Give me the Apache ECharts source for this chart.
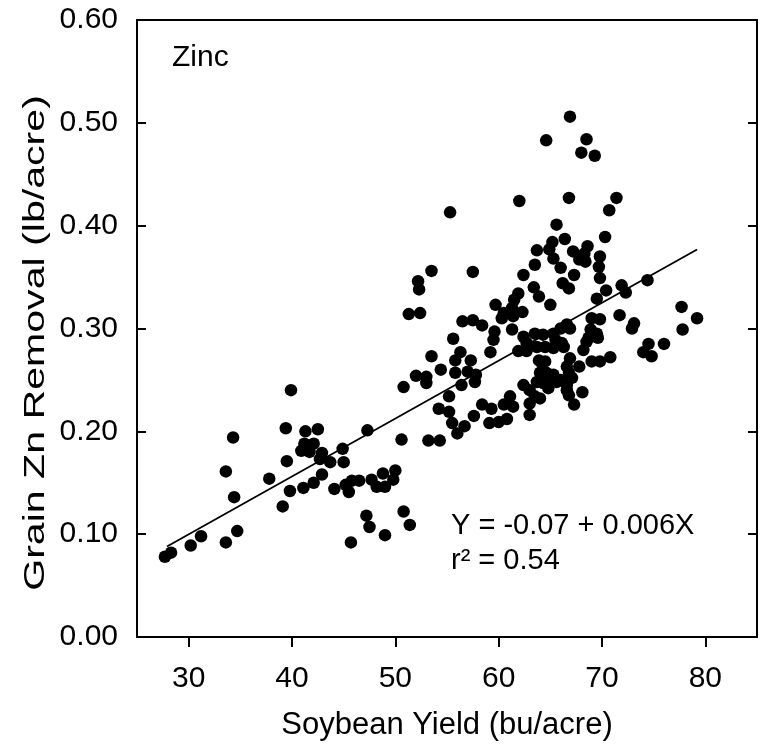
<!DOCTYPE html>
<html>
<head>
<meta charset="utf-8">
<script src="https://cdn.jsdelivr.net/npm/echarts@6.0.0/dist/echarts.min.js"></script>
<style>
  html, body { margin: 0; padding: 0; background: #fff; }
  #chart { width: 763px; height: 748px; }
</style>
</head>
<body>
<div id="chart"></div>
<script>
// soybean yield (bu/acre) and grain Zn removal (lb/acre)
const yieldX = [
  27.7, 28.3, 30.2, 31.2, 33.6, 33.6, 34.3, 34.4, 34.7, 37.8,
  39.1, 39.4, 39.5, 39.8, 39.9, 41.1, 41.3, 41.2, 40.9, 41.7,
  42.1, 42.1, 42.5, 42.7, 42.9, 42.9, 43.7, 44.1, 44.9, 45.0,
  45.2, 45.5, 45.8, 45.7, 46.5, 47.3, 47.2, 47.5, 47.7, 48.2,
  48.8, 49.0, 49.0, 49.8, 50.0, 50.6, 50.8, 51.4, 50.8, 51.3,
  52.4, 52.2, 52.3, 52.0, 53.0, 53.0, 53.2, 53.5, 53.5, 54.3,
  54.2, 54.4, 55.2, 55.2, 55.3, 55.5, 55.6, 55.8, 55.8, 56.0,
  56.3, 56.4, 56.5, 56.7, 57.0, 57.3, 57.5, 57.5, 57.6, 57.7,
  57.8, 58.4, 58.4, 59.1, 59.2, 59.3, 59.5, 59.6, 59.7, 60.0,
  60.3, 60.5, 60.5, 60.8, 61.1, 61.3, 61.3, 61.4, 61.4, 61.5,
  61.9, 61.9, 62.0, 62.3, 62.4, 62.4, 62.4, 62.7, 62.7, 63.0,
  63.0, 63.0, 63.5, 63.4, 63.5, 63.5, 63.7, 63.7, 63.7, 63.9,
  63.9, 64.0, 64.0, 64.2, 64.3, 64.3, 64.5, 64.5, 64.6, 64.6,
  64.8, 64.8, 65.0, 65.2, 64.9, 65.3, 65.3, 65.3, 65.5, 65.6,
  65.6, 66.0, 66.0, 66.0, 66.1, 66.2, 66.4, 66.3, 66.6, 66.6,
  66.6, 66.6, 66.8, 66.8, 66.8, 66.8, 66.9, 66.9, 66.9, 67.1,
  67.2, 67.3, 67.3, 67.8, 67.8, 68.0, 68.1, 68.2, 68.3, 68.4,
  68.5, 68.5, 68.6, 68.7, 68.9, 69.0, 69.0, 69.3, 69.5, 69.5,
  69.6, 69.7, 69.8, 69.8, 69.8, 69.8, 70.3, 70.4, 70.7, 70.8,
  71.4, 71.7, 71.9, 72.3, 72.9, 73.1, 74.0, 74.4, 74.5, 74.8,
  76.0, 77.7, 77.8, 79.2, 65.3, 64.6
];
const znRemoval = [
  0.078, 0.082, 0.089, 0.098, 0.092, 0.161, 0.194, 0.136, 0.103, 0.154,
  0.127, 0.203, 0.171, 0.142, 0.240, 0.145, 0.200, 0.188, 0.181, 0.180,
  0.188, 0.150, 0.202, 0.173, 0.179, 0.158, 0.170, 0.144, 0.183, 0.170,
  0.148, 0.141, 0.152, 0.092, 0.152, 0.201, 0.118, 0.107, 0.153, 0.146,
  0.159, 0.146, 0.099, 0.153, 0.162, 0.192, 0.122, 0.109, 0.243, 0.314,
  0.315, 0.346, 0.338, 0.254, 0.253, 0.247, 0.191, 0.356, 0.273, 0.191,
  0.222, 0.260, 0.219, 0.234, 0.413, 0.208, 0.290, 0.257, 0.269, 0.198,
  0.277, 0.245, 0.307, 0.205, 0.258, 0.269, 0.355, 0.308, 0.215, 0.248,
  0.255, 0.303, 0.226, 0.208, 0.277, 0.222, 0.289, 0.297, 0.323, 0.209,
  0.310, 0.315, 0.226, 0.212, 0.234, 0.299, 0.320, 0.224, 0.312, 0.328,
  0.334, 0.278, 0.424, 0.316, 0.352, 0.292, 0.245, 0.286, 0.278, 0.240,
  0.227, 0.216, 0.234, 0.340, 0.362, 0.295, 0.376, 0.282, 0.248, 0.331,
  0.269, 0.257, 0.232, 0.266, 0.294, 0.247, 0.282, 0.268, 0.483, 0.250,
  0.253, 0.242, 0.323, 0.384, 0.377, 0.368, 0.295, 0.255, 0.289, 0.401,
  0.248, 0.359, 0.300, 0.250, 0.286, 0.344, 0.387, 0.282, 0.304, 0.263,
  0.245, 0.240, 0.427, 0.339, 0.257, 0.235, 0.506, 0.300, 0.271, 0.252,
  0.375, 0.352, 0.226, 0.367, 0.263, 0.471, 0.238, 0.279, 0.373, 0.365,
  0.484, 0.287, 0.380, 0.291, 0.299, 0.310, 0.268, 0.468, 0.329, 0.295,
  0.291, 0.360, 0.370, 0.349, 0.309, 0.268, 0.389, 0.337, 0.415, 0.272,
  0.427, 0.313, 0.342, 0.335, 0.300, 0.305, 0.277, 0.347, 0.285, 0.273,
  0.285, 0.321, 0.299, 0.310, 0.281, 0.257
];
const xTicks = [30, 40, 50, 60, 70, 80];
// fitted line as drawn in the figure
const fitIntercept = -0.069;
const fitSlope = 0.00563;
const fitRange = [27.9, 79.2];

const FONT = 'Liberation Sans, Arial, sans-serif';

let points = yieldX.map((x, i) => [x, znRemoval[i]]);
let fitLine = fitRange.map(x => [x, fitIntercept + fitSlope * x]);

let myChart = echarts.init(document.getElementById('chart'));
myChart.setOption({
  animation: false,
  backgroundColor: '#fff',
  grid: {
    left: 137,
    right: 6,
    top: 20,
    bottom: 111,
    containLabel: false,
    outerBoundsMode: 'none',
    show: true,
    borderColor: '#000',
    borderWidth: 2,
    backgroundColor: 'transparent'
  },
  xAxis: {
    type: 'value',
    min: 25,
    max: 85,
    name: 'Soybean Yield (bu/acre)',
    nameLocation: 'middle',
    nameGap: 73,
    nameTextStyle: { fontFamily: FONT, fontSize: 31, color: '#000' },
    axisLine: { show: true, lineStyle: { color: '#000', width: 2 } },
    axisTick: { show: true, customValues: xTicks, inside: false, length: 10, lineStyle: { color: '#000', width: 2 } },
    axisLabel: { customValues: xTicks, margin: 27, fontFamily: FONT, fontSize: 30, color: '#000' },
    splitLine: { show: false }
  },
  yAxis: [{
    type: 'value',
    min: 0,
    max: 0.6,
    interval: 0.1,
    axisLine: { show: true, lineStyle: { color: '#000', width: 2 } },
    axisTick: { show: true, inside: true, length: 9, lineStyle: { color: '#000', width: 2 } },
    axisLabel: { margin: 19, fontFamily: FONT, fontSize: 30, color: '#000', formatter: v => v.toFixed(2) },
    splitLine: { show: false }
  }, {
    type: 'value',
    position: 'right',
    min: 0,
    max: 0.6,
    interval: 0.1,
    axisLine: { show: true, lineStyle: { color: '#000', width: 2 } },
    axisTick: { show: true, inside: true, length: 9, lineStyle: { color: '#000', width: 2 } },
    axisLabel: { show: false },
    splitLine: { show: false }
  }],
  graphic: [
    // y axis title, stretched along its length like the original figure
    {
      type: 'text', x: 36, y: 343, rotation: Math.PI / 2, scaleX: 1.37,
      style: { text: 'Grain Zn Removal (lb/acre)', fontFamily: FONT, fontSize: 30, fill: '#000', align: 'center', verticalAlign: 'middle' }
    },
    { type: 'text', x: 172, y: 58, style: { text: 'Zinc', fontFamily: FONT, fontSize: 30, fill: '#000', verticalAlign: 'middle' } },
    { type: 'text', x: 451, y: 526, style: { text: 'Y = -0.07 + 0.006X', fontFamily: FONT, fontSize: 29, fill: '#000', verticalAlign: 'middle' } },
    { type: 'text', x: 451, y: 561, style: { text: 'r² = 0.54', fontFamily: FONT, fontSize: 29, fill: '#000', verticalAlign: 'middle' } }
  ],
  series: [{
    name: 'fit',
    type: 'line',
    data: fitLine,
    symbol: 'none',
    silent: true,
    lineStyle: { color: '#000', width: 1.8 },
    z: 3
  }, {
    name: 'Zn',
    type: 'scatter',
    data: points,
    symbol: 'circle',
    symbolSize: 12.5,
    itemStyle: { color: '#000', opacity: 1 },
    z: 4
  }]
});
</script>
</body>
</html>
